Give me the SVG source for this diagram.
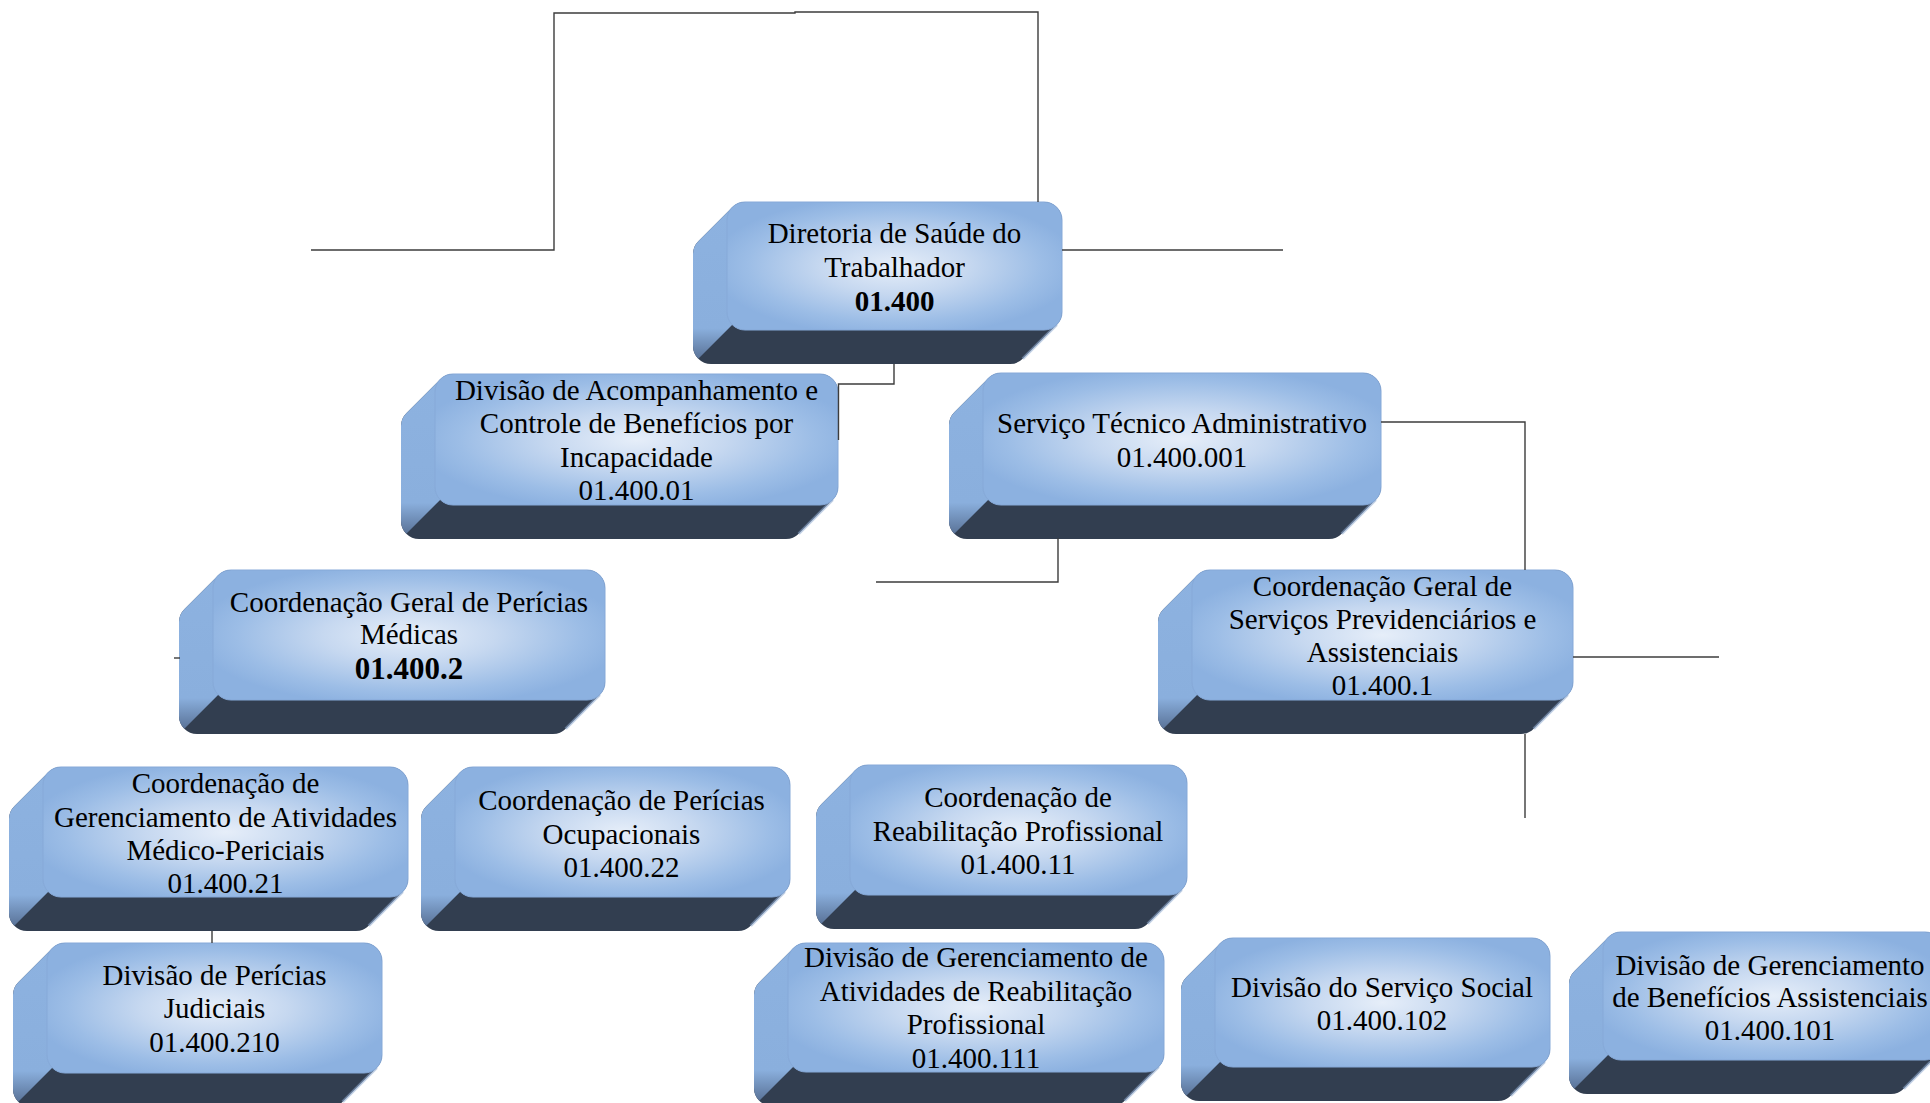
<svg xmlns="http://www.w3.org/2000/svg" width="1930" height="1103" viewBox="0 0 1930 1103">
<defs>
<radialGradient id="gFront" cx="0.5" cy="0.5" r="0.55">
<stop offset="0" stop-color="#e6eef9"/>
<stop offset="0.4" stop-color="#c6d8f0"/>
<stop offset="0.8" stop-color="#9cbde6"/>
<stop offset="1" stop-color="#8cb1e0"/>
</radialGradient>
<linearGradient id="gSide" x1="0" y1="0" x2="0" y2="1">
<stop offset="0" stop-color="#8db2e0"/>
<stop offset="0.8" stop-color="#8aafdd"/>
<stop offset="1" stop-color="#5a7398"/>
</linearGradient>
<style>
.sil{fill:#323e50}
.side{fill:url(#gSide)}
.rim{fill:none;stroke:#8ea9cf;stroke-width:3;opacity:.55}
.face{fill:url(#gFront);stroke:#86a9d8;stroke-width:1}
.t{font-family:"Liberation Serif","Times New Roman",serif;font-size:29px;text-anchor:middle;fill:#000}
.b{font-weight:bold}
.conn{fill:none;stroke:#3c3c3c;stroke-width:1.4}
</style>
</defs>
<rect width="1930" height="1103" fill="#fff"/>

<g id="n-root" transform="translate(727,202)">
<path class="sil" d="M18,0 H317 A18,18 0 0 1 335,18 V110 A18,18 0 0 1 329.7,122.7 L295.7,156.7 A18,18 0 0 1 283,162 H-16 A18,18 0 0 1 -34,144 V52 A18,18 0 0 1 -28.7,39.3 L5.3,5.3 A18,18 0 0 1 18,0 Z"/>
<path class="side" d="M5.3,5.3 L-28.7,39.3 A18,18 0 0 0 -34,52 V144 A18,18 0 0 0 -28.7,156.7 L5.3,122.7 Z"/>
<path class="rim" d="M329.7,122.7 L295.7,156.7"/>
<rect class="face" x="0" y="0" width="335" height="128" rx="18"/>
<text class="t" x="167.5" y="41">Diretoria de Saúde do</text>
<text class="t" x="167.5" y="75">Trabalhador</text>
<text class="t b" x="167.5" y="109">01.400</text>
</g>

<g id="n-acomp" transform="translate(435,374)">
<path class="sil" d="M18,0 H385 A18,18 0 0 1 403,18 V113 A18,18 0 0 1 397.7,125.7 L363.7,159.7 A18,18 0 0 1 351,165 H-16 A18,18 0 0 1 -34,147 V52 A18,18 0 0 1 -28.7,39.3 L5.3,5.3 A18,18 0 0 1 18,0 Z"/>
<path class="side" d="M5.3,5.3 L-28.7,39.3 A18,18 0 0 0 -34,52 V147 A18,18 0 0 0 -28.7,159.7 L5.3,125.7 Z"/>
<path class="rim" d="M397.7,125.7 L363.7,159.7"/>
<rect class="face" x="0" y="0" width="403" height="131" rx="18"/>
<text class="t" x="201.5" y="26">Divisão de Acompanhamento e</text>
<text class="t" x="201.5" y="59">Controle de Benefícios por</text>
<text class="t" x="201.5" y="93">Incapacidade</text>
<text class="t" x="201.5" y="126">01.400.01</text>
</g>

<g id="n-servico" transform="translate(983,373)">
<path class="sil" d="M18,0 H380 A18,18 0 0 1 398,18 V114 A18,18 0 0 1 392.7,126.7 L358.7,160.7 A18,18 0 0 1 346,166 H-16 A18,18 0 0 1 -34,148 V52 A18,18 0 0 1 -28.7,39.3 L5.3,5.3 A18,18 0 0 1 18,0 Z"/>
<path class="side" d="M5.3,5.3 L-28.7,39.3 A18,18 0 0 0 -34,52 V148 A18,18 0 0 0 -28.7,160.7 L5.3,126.7 Z"/>
<path class="rim" d="M392.7,126.7 L358.7,160.7"/>
<rect class="face" x="0" y="0" width="398" height="132" rx="18"/>
<text class="t" x="199" y="60">Serviço Técnico Administrativo</text>
<text class="t" x="199" y="94">01.400.001</text>
</g>

<g id="n-cgpm" transform="translate(213,570)">
<path class="sil" d="M18,0 H374 A18,18 0 0 1 392,18 V112 A18,18 0 0 1 386.7,124.7 L352.7,158.7 A18,18 0 0 1 340,164 H-16 A18,18 0 0 1 -34,146 V52 A18,18 0 0 1 -28.7,39.3 L5.3,5.3 A18,18 0 0 1 18,0 Z"/>
<path class="side" d="M5.3,5.3 L-28.7,39.3 A18,18 0 0 0 -34,52 V146 A18,18 0 0 0 -28.7,158.7 L5.3,124.7 Z"/>
<path class="rim" d="M386.7,124.7 L352.7,158.7"/>
<rect class="face" x="0" y="0" width="392" height="130" rx="18"/>
<text class="t" x="196" y="42">Coordenação Geral de Perícias</text>
<text class="t" x="196" y="74">Médicas</text>
<text class="t b" x="196" y="109" style="font-size:31px">01.400.2</text>
</g>

<g id="n-cgspa" transform="translate(1192,570)">
<path class="sil" d="M18,0 H363 A18,18 0 0 1 381,18 V112 A18,18 0 0 1 375.7,124.7 L341.7,158.7 A18,18 0 0 1 329,164 H-16 A18,18 0 0 1 -34,146 V52 A18,18 0 0 1 -28.7,39.3 L5.3,5.3 A18,18 0 0 1 18,0 Z"/>
<path class="side" d="M5.3,5.3 L-28.7,39.3 A18,18 0 0 0 -34,52 V146 A18,18 0 0 0 -28.7,158.7 L5.3,124.7 Z"/>
<path class="rim" d="M375.7,124.7 L341.7,158.7"/>
<rect class="face" x="0" y="0" width="381" height="130" rx="18"/>
<text class="t" x="190.5" y="26">Coordenação Geral de</text>
<text class="t" x="190.5" y="59">Serviços Previdenciários e</text>
<text class="t" x="190.5" y="92">Assistenciais</text>
<text class="t" x="190.5" y="125">01.400.1</text>
</g>

<g id="n-cgamp" transform="translate(43,767)">
<path class="sil" d="M18,0 H347 A18,18 0 0 1 365,18 V112 A18,18 0 0 1 359.7,124.7 L325.7,158.7 A18,18 0 0 1 313,164 H-16 A18,18 0 0 1 -34,146 V52 A18,18 0 0 1 -28.7,39.3 L5.3,5.3 A18,18 0 0 1 18,0 Z"/>
<path class="side" d="M5.3,5.3 L-28.7,39.3 A18,18 0 0 0 -34,52 V146 A18,18 0 0 0 -28.7,158.7 L5.3,124.7 Z"/>
<path class="rim" d="M359.7,124.7 L325.7,158.7"/>
<rect class="face" x="0" y="0" width="365" height="130" rx="18"/>
<text class="t" x="182.5" y="26">Coordenação de</text>
<text class="t" x="182.5" y="60">Gerenciamento de Atividades</text>
<text class="t" x="182.5" y="93">Médico-Periciais</text>
<text class="t" x="182.5" y="126">01.400.21</text>
</g>

<g id="n-cpo" transform="translate(455,767)">
<path class="sil" d="M18,0 H317 A18,18 0 0 1 335,18 V112 A18,18 0 0 1 329.7,124.7 L295.7,158.7 A18,18 0 0 1 283,164 H-16 A18,18 0 0 1 -34,146 V52 A18,18 0 0 1 -28.7,39.3 L5.3,5.3 A18,18 0 0 1 18,0 Z"/>
<path class="side" d="M5.3,5.3 L-28.7,39.3 A18,18 0 0 0 -34,52 V146 A18,18 0 0 0 -28.7,158.7 L5.3,124.7 Z"/>
<path class="rim" d="M329.7,124.7 L295.7,158.7"/>
<rect class="face" x="0" y="0" width="335" height="130" rx="18"/>
<text class="t" x="166.5" y="43">Coordenação de Perícias</text>
<text class="t" x="166.5" y="77">Ocupacionais</text>
<text class="t" x="166.5" y="110">01.400.22</text>
</g>

<g id="n-crp" transform="translate(850,765)">
<path class="sil" d="M18,0 H319 A18,18 0 0 1 337,18 V112 A18,18 0 0 1 331.7,124.7 L297.7,158.7 A18,18 0 0 1 285,164 H-16 A18,18 0 0 1 -34,146 V52 A18,18 0 0 1 -28.7,39.3 L5.3,5.3 A18,18 0 0 1 18,0 Z"/>
<path class="side" d="M5.3,5.3 L-28.7,39.3 A18,18 0 0 0 -34,52 V146 A18,18 0 0 0 -28.7,158.7 L5.3,124.7 Z"/>
<path class="rim" d="M331.7,124.7 L297.7,158.7"/>
<rect class="face" x="0" y="0" width="337" height="130" rx="18"/>
<text class="t" x="168" y="42">Coordenação de</text>
<text class="t" x="168" y="76">Reabilitação Profissional</text>
<text class="t" x="168" y="109">01.400.11</text>
</g>

<g id="n-dpj" transform="translate(47,943)">
<path class="sil" d="M18,0 H317 A18,18 0 0 1 335,18 V112 A18,18 0 0 1 329.7,124.7 L295.7,158.7 A18,18 0 0 1 283,164 H-16 A18,18 0 0 1 -34,146 V52 A18,18 0 0 1 -28.7,39.3 L5.3,5.3 A18,18 0 0 1 18,0 Z"/>
<path class="side" d="M5.3,5.3 L-28.7,39.3 A18,18 0 0 0 -34,52 V146 A18,18 0 0 0 -28.7,158.7 L5.3,124.7 Z"/>
<path class="rim" d="M329.7,124.7 L295.7,158.7"/>
<rect class="face" x="0" y="0" width="335" height="130" rx="18"/>
<text class="t" x="167.5" y="42">Divisão de Perícias</text>
<text class="t" x="167.5" y="75">Judiciais</text>
<text class="t" x="167.5" y="109">01.400.210</text>
</g>

<g id="n-dgarp" transform="translate(788,943)">
<path class="sil" d="M18,0 H358 A18,18 0 0 1 376,18 V111 A18,18 0 0 1 370.7,123.7 L336.7,157.7 A18,18 0 0 1 324,163 H-16 A18,18 0 0 1 -34,145 V52 A18,18 0 0 1 -28.7,39.3 L5.3,5.3 A18,18 0 0 1 18,0 Z"/>
<path class="side" d="M5.3,5.3 L-28.7,39.3 A18,18 0 0 0 -34,52 V145 A18,18 0 0 0 -28.7,157.7 L5.3,123.7 Z"/>
<path class="rim" d="M370.7,123.7 L336.7,157.7"/>
<rect class="face" x="0" y="0" width="376" height="129" rx="18"/>
<text class="t" x="188" y="24">Divisão de Gerenciamento de</text>
<text class="t" x="188" y="58">Atividades de Reabilitação</text>
<text class="t" x="188" y="91">Profissional</text>
<text class="t" x="188" y="125">01.400.111</text>
</g>

<g id="n-dss" transform="translate(1215,938)">
<path class="sil" d="M18,0 H317 A18,18 0 0 1 335,18 V111 A18,18 0 0 1 329.7,123.7 L295.7,157.7 A18,18 0 0 1 283,163 H-16 A18,18 0 0 1 -34,145 V52 A18,18 0 0 1 -28.7,39.3 L5.3,5.3 A18,18 0 0 1 18,0 Z"/>
<path class="side" d="M5.3,5.3 L-28.7,39.3 A18,18 0 0 0 -34,52 V145 A18,18 0 0 0 -28.7,157.7 L5.3,123.7 Z"/>
<path class="rim" d="M329.7,123.7 L295.7,157.7"/>
<rect class="face" x="0" y="0" width="335" height="129" rx="18"/>
<text class="t" x="167" y="59">Divisão do Serviço Social</text>
<text class="t" x="167" y="92">01.400.102</text>
</g>

<g id="n-dgba" transform="translate(1603,932)">
<path class="sil" d="M18,0 H322 A18,18 0 0 1 340,18 V110 A18,18 0 0 1 334.7,122.7 L300.7,156.7 A18,18 0 0 1 288,162 H-16 A18,18 0 0 1 -34,144 V52 A18,18 0 0 1 -28.7,39.3 L5.3,5.3 A18,18 0 0 1 18,0 Z"/>
<path class="side" d="M5.3,5.3 L-28.7,39.3 A18,18 0 0 0 -34,52 V144 A18,18 0 0 0 -28.7,156.7 L5.3,122.7 Z"/>
<path class="rim" d="M334.7,122.7 L300.7,156.7"/>
<rect class="face" x="0" y="0" width="340" height="128" rx="18"/>
<text class="t" x="167" y="43">Divisão de Gerenciamento</text>
<text class="t" x="167" y="75">de Benefícios Assistenciais</text>
<text class="t" x="167" y="108">01.400.101</text>
</g>

<g id="connectors">
<path class="conn" d="M311,250 H554 V13 H795 V12 H1038 V202"/>
<path class="conn" d="M1062,250 H1283"/>
<path class="conn" d="M894,364 V384 H838.5 V440"/>
<path class="conn" d="M1381,422 H1525 V570"/>
<path class="conn" d="M1058,538 V582 H876"/>
<path class="conn" d="M1573,657 H1719"/>
<path class="conn" d="M1525,734 V818"/>
<path class="conn" d="M212,931 V943"/>
<path class="conn" d="M174,658 H180"/>
</g>
</svg>
